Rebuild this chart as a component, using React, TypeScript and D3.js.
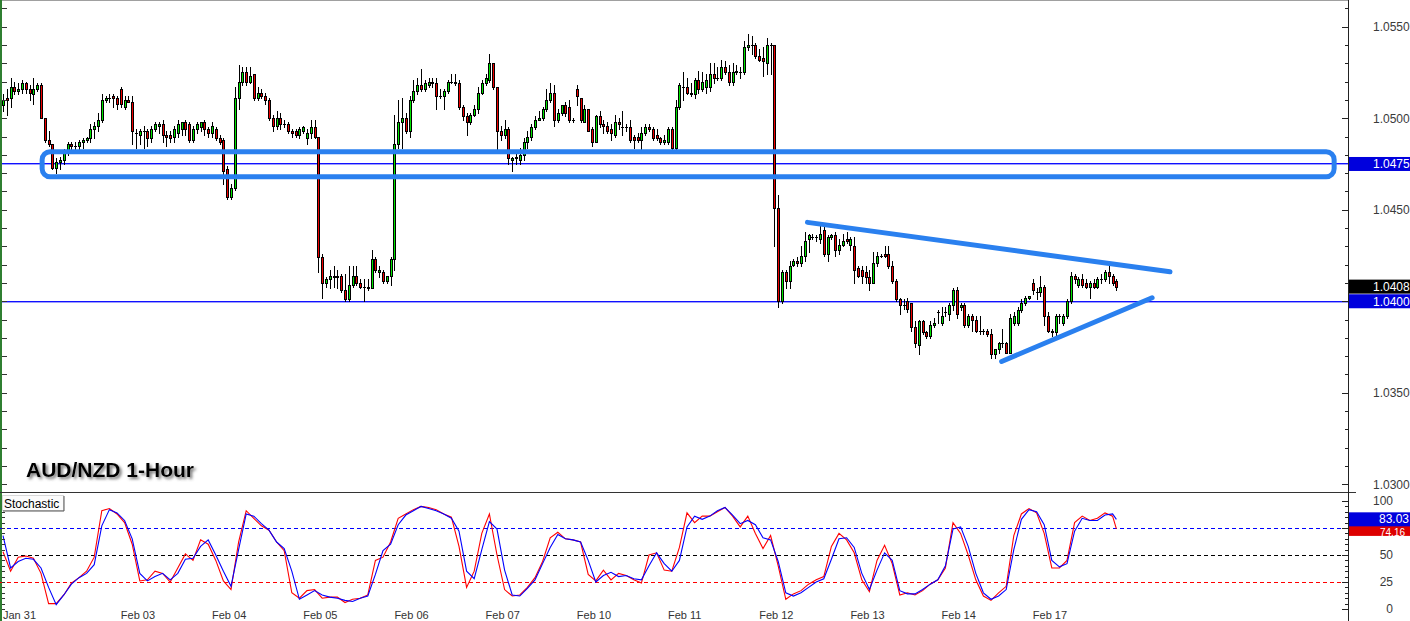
import React from 'react';
import * as d3 from 'd3';

const W = 1410;
const H = 621;

// hourly candles [open, high, low, close]
const candles: [number, number, number, number][] = [
  [1.0507,1.0513,1.0504,1.0510],[1.0511,1.0516,1.0502,1.0510],[1.0511,1.0522,1.0506,1.0517],[1.0517,1.0520,1.0513,1.0515],
  [1.0515,1.0519,1.0513,1.0516],[1.0516,1.0521,1.0514,1.0519],[1.0519,1.0520,1.0514,1.0516],[1.0516,1.0518,1.0510,1.0514],
  [1.0513,1.0522,1.0508,1.0516],[1.0516,1.0519,1.0515,1.0518],[1.0518,1.0519,1.0500,1.0500],[1.0500,1.0500,1.0487,1.0488],
  [1.0488,1.0493,1.0485,1.0486],[1.0486,1.0486,1.0472,1.0473],[1.0473,1.0478,1.0470,1.0476],[1.0476,1.0479,1.0472,1.0477],
  [1.0477,1.0483,1.0475,1.0481],[1.0481,1.0487,1.0480,1.0486],[1.0486,1.0487,1.0483,1.0485],[1.0485,1.0487,1.0483,1.0485],
  [1.0485,1.0488,1.0483,1.0487],[1.0487,1.0489,1.0484,1.0488],[1.0488,1.0490,1.0487,1.0489],[1.0489,1.0497,1.0487,1.0494],
  [1.0494,1.0498,1.0489,1.0496],[1.0496,1.0503,1.0493,1.0499],[1.0499,1.0513,1.0498,1.0510],[1.0510,1.0512,1.0509,1.0511],
  [1.0511,1.0513,1.0509,1.0511],[1.0512,1.0513,1.0506,1.0511],[1.0511,1.0512,1.0505,1.0508],[1.0516,1.0517,1.0506,1.0508],
  [1.0506,1.0512,1.0505,1.0510],[1.0510,1.0512,1.0509,1.0509],[1.0509,1.0512,1.0486,1.0493],[1.0492,1.0494,1.0484,1.0492],
  [1.0491,1.0494,1.0486,1.0493],[1.0493,1.0496,1.0484,1.0493],[1.0493,1.0494,1.0485,1.0489],[1.0489,1.0496,1.0487,1.0494],
  [1.0494,1.0498,1.0493,1.0497],[1.0496,1.0498,1.0492,1.0497],[1.0497,1.0499,1.0487,1.0491],[1.0491,1.0493,1.0485,1.0490],
  [1.0491,1.0493,1.0487,1.0489],[1.0490,1.0496,1.0487,1.0494],[1.0492,1.0499,1.0490,1.0497],[1.0494,1.0498,1.0491,1.0498],
  [1.0498,1.0499,1.0491,1.0494],[1.0497,1.0498,1.0487,1.0488],[1.0488,1.0496,1.0487,1.0494],[1.0494,1.0498,1.0492,1.0497],
  [1.0495,1.0498,1.0493,1.0498],[1.0498,1.0499,1.0491,1.0494],[1.0494,1.0495,1.0490,1.0492],[1.0492,1.0498,1.0490,1.0496],
  [1.0494,1.0495,1.0488,1.0489],[1.0489,1.0491,1.0486,1.0487],[1.0488,1.0489,1.0464,1.0471],[1.0472,1.0474,1.0456,1.0457],
  [1.0457,1.0464,1.0456,1.0462],[1.0462,1.0517,1.0461,1.0511],[1.0511,1.0529,1.0505,1.0520],[1.0520,1.0528,1.0518,1.0525],
  [1.0525,1.0528,1.0518,1.0520],[1.0520,1.0528,1.0519,1.0523],[1.0524,1.0524,1.0510,1.0511],[1.0511,1.0517,1.0510,1.0514],
  [1.0514,1.0516,1.0511,1.0512],[1.0512,1.0514,1.0508,1.0510],[1.0510,1.0511,1.0499,1.0500],[1.0500,1.0502,1.0493,1.0496],
  [1.0496,1.0504,1.0494,1.0500],[1.0500,1.0503,1.0494,1.0497],[1.0497,1.0499,1.0495,1.0497],[1.0497,1.0498,1.0492,1.0493],
  [1.0493,1.0494,1.0490,1.0492],[1.0493,1.0494,1.0490,1.0491],[1.0491,1.0495,1.0489,1.0494],[1.0493,1.0496,1.0492,1.0495],
  [1.0489,1.0494,1.0486,1.0492],[1.0492,1.0499,1.0489,1.0495],[1.0495,1.0499,1.0489,1.0490],[1.0490,1.0490,1.0416,1.0424],
  [1.0424,1.0426,1.0402,1.0410],[1.0410,1.0413,1.0408,1.0412],[1.0412,1.0417,1.0407,1.0414],[1.0414,1.0419,1.0408,1.0413],
  [1.0413,1.0417,1.0407,1.0414],[1.0414,1.0415,1.0405,1.0406],[1.0406,1.0415,1.0400,1.0401],[1.0401,1.0419,1.0400,1.0409],
  [1.0409,1.0419,1.0408,1.0414],[1.0414,1.0419,1.0409,1.0410],[1.0410,1.0412,1.0407,1.0408],[1.0408,1.0412,1.0400,1.0408],
  [1.0407,1.0412,1.0406,1.0408],[1.0407,1.0428,1.0407,1.0423],[1.0423,1.0424,1.0416,1.0417],[1.0416,1.0419,1.0413,1.0417],
  [1.0416,1.0417,1.0410,1.0411],[1.0411,1.0414,1.0410,1.0414],[1.0414,1.0424,1.0409,1.0423],[1.0423,1.0502,1.0417,1.0486],
  [1.0486,1.0510,1.0484,1.0498],[1.0498,1.0511,1.0484,1.0500],[1.0500,1.0503,1.0492,1.0493],[1.0493,1.0512,1.0490,1.0510],
  [1.0510,1.0521,1.0509,1.0515],[1.0515,1.0522,1.0513,1.0518],[1.0518,1.0527,1.0515,1.0516],[1.0516,1.0521,1.0515,1.0519],
  [1.0518,1.0522,1.0517,1.0520],[1.0520,1.0522,1.0517,1.0519],[1.0519,1.0522,1.0505,1.0512],[1.0512,1.0516,1.0511,1.0512],
  [1.0512,1.0516,1.0505,1.0515],[1.0515,1.0521,1.0514,1.0520],[1.0520,1.0524,1.0519,1.0520],[1.0520,1.0524,1.0518,1.0519],
  [1.0519,1.0521,1.0505,1.0506],[1.0506,1.0507,1.0499,1.0501],[1.0501,1.0503,1.0491,1.0498],[1.0498,1.0503,1.0497,1.0502],
  [1.0502,1.0507,1.0501,1.0505],[1.0505,1.0517,1.0503,1.0514],[1.0514,1.0521,1.0513,1.0519],[1.0519,1.0524,1.0518,1.0522],
  [1.0521,1.0535,1.0520,1.0530],[1.0530,1.0530,1.0516,1.0517],[1.0517,1.0517,1.0483,1.0493],[1.0493,1.0496,1.0488,1.0491],
  [1.0491,1.0499,1.0489,1.0494],[1.0494,1.0495,1.0475,1.0478],[1.0477,1.0479,1.0471,1.0478],[1.0479,1.0481,1.0475,1.0478],
  [1.0477,1.0484,1.0475,1.0480],[1.0480,1.0489,1.0477,1.0487],[1.0487,1.0493,1.0484,1.0490],[1.0490,1.0497,1.0488,1.0495],
  [1.0495,1.0501,1.0494,1.0499],[1.0499,1.0504,1.0499,1.0500],[1.0500,1.0506,1.0499,1.0505],[1.0505,1.0516,1.0504,1.0510],
  [1.0510,1.0519,1.0509,1.0514],[1.0514,1.0518,1.0496,1.0499],[1.0499,1.0505,1.0498,1.0503],[1.0503,1.0507,1.0502,1.0507],
  [1.0507,1.0509,1.0501,1.0503],[1.0506,1.0510,1.0498,1.0499],[1.0499,1.0500,1.0498,1.0499],[1.0516,1.0518,1.0507,1.0512],
  [1.0511,1.0511,1.0498,1.0499],[1.0498,1.0507,1.0498,1.0505],[1.0505,1.0505,1.0493,1.0493],[1.0494,1.0495,1.0485,1.0487],
  [1.0487,1.0502,1.0487,1.0501],[1.0501,1.0504,1.0495,1.0497],[1.0497,1.0499,1.0492,1.0496],[1.0496,1.0498,1.0492,1.0493],
  [1.0494,1.0497,1.0488,1.0492],[1.0491,1.0502,1.0490,1.0498],[1.0498,1.0500,1.0494,1.0497],[1.0495,1.0504,1.0491,1.0495],
  [1.0495,1.0497,1.0493,1.0495],[1.0495,1.0499,1.0487,1.0488],[1.0490,1.0491,1.0484,1.0488],[1.0490,1.0492,1.0487,1.0488],
  [1.0488,1.0495,1.0483,1.0492],[1.0492,1.0497,1.0491,1.0495],[1.0495,1.0497,1.0493,1.0494],[1.0494,1.0495,1.0488,1.0489],
  [1.0491,1.0494,1.0488,1.0489],[1.0489,1.0490,1.0486,1.0487],[1.0487,1.0491,1.0486,1.0488],[1.0487,1.0495,1.0486,1.0494],
  [1.0494,1.0495,1.0483,1.0484],[1.0484,1.0510,1.0482,1.0506],[1.0506,1.0519,1.0505,1.0518],[1.0517,1.0525,1.0510,1.0517],
  [1.0517,1.0522,1.0513,1.0514],[1.0514,1.0519,1.0512,1.0513],[1.0513,1.0522,1.0511,1.0521],[1.0521,1.0526,1.0514,1.0516],
  [1.0516,1.0525,1.0515,1.0520],[1.0517,1.0524,1.0514,1.0521],[1.0517,1.0530,1.0515,1.0524],[1.0524,1.0530,1.0519,1.0522],
  [1.0522,1.0528,1.0521,1.0522],[1.0522,1.0532,1.0521,1.0528],[1.0528,1.0531,1.0524,1.0525],[1.0525,1.0529,1.0518,1.0520],
  [1.0520,1.0530,1.0518,1.0525],[1.0526,1.0529,1.0524,1.0525],[1.0525,1.0528,1.0522,1.0525],[1.0525,1.0542,1.0524,1.0539],
  [1.0539,1.0546,1.0537,1.0540],[1.0540,1.0545,1.0535,1.0540],[1.0540,1.0541,1.0533,1.0534],[1.0534,1.0538,1.0531,1.0532],
  [1.0533,1.0539,1.0523,1.0531],[1.0530,1.0544,1.0524,1.0540],[1.0540,1.0541,1.0524,1.0540],[1.0540,1.0540,1.0430,1.0451],
  [1.0451,1.0458,1.0397,1.0400],[1.0400,1.0417,1.0399,1.0416],[1.0416,1.0417,1.0407,1.0411],[1.0411,1.0422,1.0407,1.0419],
  [1.0420,1.0423,1.0419,1.0422],[1.0422,1.0424,1.0419,1.0421],[1.0421,1.0430,1.0419,1.0425],[1.0425,1.0438,1.0422,1.0433],
  [1.0434,1.0437,1.0427,1.0436],[1.0435,1.0437,1.0434,1.0435],[1.0435,1.0436,1.0433,1.0435],[1.0434,1.0441,1.0432,1.0437],
  [1.0439,1.0441,1.0425,1.0426],[1.0426,1.0436,1.0422,1.0435],[1.0435,1.0437,1.0434,1.0436],[1.0436,1.0438,1.0425,1.0428],
  [1.0428,1.0434,1.0426,1.0431],[1.0431,1.0437,1.0430,1.0433],[1.0434,1.0438,1.0432,1.0433],[1.0431,1.0435,1.0428,1.0434],
  [1.0430,1.0435,1.0410,1.0417],[1.0418,1.0419,1.0413,1.0414],[1.0417,1.0419,1.0410,1.0414],[1.0416,1.0419,1.0410,1.0413],
  [1.0413,1.0417,1.0406,1.0410],[1.0410,1.0427,1.0410,1.0421],[1.0421,1.0427,1.0419,1.0425],[1.0425,1.0426,1.0424,1.0425],
  [1.0426,1.0430,1.0424,1.0425],[1.0426,1.0430,1.0418,1.0419],[1.0419,1.0422,1.0410,1.0411],[1.0411,1.0412,1.0400,1.0401],
  [1.0401,1.0402,1.0393,1.0398],[1.0398,1.0401,1.0396,1.0398],[1.0400,1.0402,1.0394,1.0396],[1.0399,1.0399,1.0384,1.0386],
  [1.0386,1.0389,1.0375,1.0377],[1.0376,1.0390,1.0371,1.0389],[1.0389,1.0390,1.0382,1.0383],[1.0383,1.0384,1.0380,1.0381],
  [1.0381,1.0389,1.0380,1.0387],[1.0387,1.0391,1.0386,1.0388],[1.0394,1.0395,1.0388,1.0394],[1.0388,1.0397,1.0387,1.0392],
  [1.0394,1.0397,1.0392,1.0394],[1.0393,1.0399,1.0390,1.0398],[1.0398,1.0407,1.0395,1.0406],[1.0406,1.0408,1.0391,1.0393],
  [1.0397,1.0399,1.0395,1.0398],[1.0398,1.0399,1.0386,1.0387],[1.0387,1.0393,1.0386,1.0392],[1.0392,1.0393,1.0384,1.0390],
  [1.0390,1.0392,1.0383,1.0384],[1.0384,1.0392,1.0382,1.0384],[1.0384,1.0385,1.0382,1.0384],[1.0384,1.0385,1.0381,1.0382],
  [1.0382,1.0385,1.0369,1.0371],[1.0371,1.0374,1.0369,1.0374],[1.0374,1.0378,1.0372,1.0377],[1.0377,1.0385,1.0375,1.0377],
  [1.0377,1.0378,1.0372,1.0372],[1.0372,1.0393,1.0372,1.0391],[1.0388,1.0394,1.0387,1.0392],[1.0388,1.0397,1.0387,1.0395],
  [1.0395,1.0401,1.0394,1.0399],[1.0399,1.0403,1.0398,1.0402],[1.0402,1.0403,1.0401,1.0403],[1.0410,1.0412,1.0404,1.0406],
  [1.0405,1.0407,1.0401,1.0405],[1.0405,1.0414,1.0403,1.0408],[1.0408,1.0409,1.0387,1.0392],[1.0392,1.0394,1.0383,1.0384],
  [1.0384,1.0385,1.0381,1.0383],[1.0383,1.0393,1.0381,1.0392],[1.0392,1.0393,1.0388,1.0392],[1.0388,1.0393,1.0387,1.0392],
  [1.0392,1.0401,1.0391,1.0400],[1.0400,1.0416,1.0399,1.0414],[1.0414,1.0415,1.0410,1.0412],[1.0409,1.0413,1.0408,1.0412],
  [1.0412,1.0415,1.0408,1.0409],[1.0410,1.0412,1.0407,1.0408],[1.0408,1.0411,1.0402,1.0410],[1.0410,1.0412,1.0407,1.0408],
  [1.0408,1.0413,1.0407,1.0412],[1.0412,1.0415,1.0410,1.0412],[1.0412,1.0417,1.0411,1.0416],[1.0416,1.0419,1.0410,1.0414],
  [1.0414,1.0415,1.0409,1.0410],[1.0411,1.0412,1.0406,1.0408],
];

const dayLabels = ['Jan 31', 'Feb 03', 'Feb 04', 'Feb 05', 'Feb 06', 'Feb 07', 'Feb 10', 'Feb 11', 'Feb 12', 'Feb 13', 'Feb 14', 'Feb 17'];
const dayStartIdx = [0, 31, 55, 79, 103, 127, 151, 175, 199, 223, 247, 271];

const priceLabels = ['1.0300', '1.0350', '1.0400', '1.0450', '1.0500', '1.0550'];
const priceLevels = [1.0475, 1.04];
const lastPrice = 1.0408;

// stochastic %K (red) and %D (blue), every 2nd candle, plus the last candle
const stochK = [
  53, 35, 48, 49, 47, 33, 5, 5, 13, 24, 29, 35, 48, 91, 93, 88, 80, 60, 26, 27,
  35, 33, 25, 38, 51, 45, 64, 60, 45, 26, 18, 62, 91, 84, 77, 73, 62, 54, 15, 10,
  17, 18, 10, 11, 11, 6, 9, 10, 13, 45, 48, 62, 84, 88, 92, 95, 94, 92, 88, 85,
  58, 20, 35, 70, 88, 50, 18, 12, 13, 20, 29, 44, 66, 71, 65, 64, 62, 32, 26, 36,
  27, 33, 31, 27, 24, 50, 52, 36, 35, 57, 89, 80, 86, 86, 90, 94, 86, 76, 86, 70,
  56, 68, 40, 9, 14, 17, 23, 27, 30, 58, 70, 64, 52, 27, 16, 45, 59, 42, 13, 15,
  13, 17, 23, 27, 38, 80, 70, 50, 27, 12, 8, 15, 21, 68, 88, 93, 89, 70, 38, 38,
  45, 80, 86, 82, 84, 89, 86, 74.16,
];
const stochD = [
  68, 38, 44, 47, 46, 38, 20, 4, 13, 23, 29, 33, 41, 77, 92, 89, 82, 65, 33, 26,
  30, 33, 27, 33, 46, 47, 58, 64, 50, 35, 21, 55, 88, 86, 79, 73, 62, 56, 35, 9,
  13, 17, 13, 11, 10, 8, 7, 10, 12, 32, 54, 60, 78, 87, 91, 95, 93, 91, 88, 84,
  72, 35, 28, 55, 81, 74, 36, 13, 12, 19, 27, 42, 57, 69, 65, 64, 62, 45, 25, 31,
  34, 30, 31, 28, 27, 40, 52, 42, 35, 45, 76, 86, 83, 86, 91, 94, 87, 79, 82, 78,
  66, 64, 44, 15, 12, 15, 20, 25, 28, 46, 65, 66, 57, 33, 18, 36, 52, 45, 17, 14,
  14, 18, 23, 27, 40, 74, 76, 58, 33, 15, 9, 12, 18, 55, 83, 92, 90, 78, 45, 39,
  42, 72, 84, 82, 82, 87, 88, 83.03,
];
const stochLevels = [75, 50, 25];
const stochLevelColors = ['#0000ff', '#000000', '#ff0000'];
const stochTickLabels = [100, 50, 25, 0];

// drawn annotations: [candle index, price]
const zoneBox = { i0: 10.3, i1: 350.3, p0: 1.04817, p1: 1.0468 };
const upperTrend: [number, number][] = [[211.7, 1.04431], [307.1, 1.04161]];
const lowerTrend: [number, number][] = [[262.8, 1.03671], [302.4, 1.04019]];

const FONT = "'Liberation Sans', Arial, sans-serif";

export default function App() {
  const n = candles.length;
  const x = d3.scaleLinear().domain([0, n - 1]).range([3, 3 + (n - 1) * 3.8]);
  const y = d3.scaleLinear().domain([1.03, 1.055]).range([484.3, 26.7]);
  const ys = d3.scaleLinear().domain([0, 100]).range([609, 501]);

  const axisX = 1348;
  const stochIdx = d3.range(0, n - 1, 2).concat([n - 1]);

  const lineK = d3.line<number>().x((_, i) => x(stochIdx[i])).y((d) => ys(d));
  const lineD = d3.line<number>().x((_, i) => x(stochIdx[i])).y((d) => ys(d));
  const trend = d3.line<[number, number]>().x((d) => x(d[0])).y((d) => y(d[1]));

  const minorTicks = d3.range(0, 27).map((k) => 1.03 + k * 0.001);
  const stochTicks = d3.range(0, 21).map((k) => k * 5);

  const green = '#00e400';
  const red = '#ee0000';

  const lastK = stochK[stochK.length - 1];
  const lastD = stochD[stochD.length - 1];

  return (
    <svg width={W} height={H} style={{ position: 'absolute', left: 0, top: 0, display: 'block', background: '#ffffff' }}>
      <defs>
        <filter id="tshadow" x="-10%" y="-30%" width="130%" height="180%">
          <feDropShadow dx="2" dy="2" stdDeviation="1.6" floodColor="#555555" floodOpacity="0.85" />
        </filter>
        <clipPath id="mainclip">
          <rect x={0} y={0} width={axisX} height={492} />
        </clipPath>
        <clipPath id="stochclip">
          <rect x={0} y={493} width={axisX} height={128} />
        </clipPath>
      </defs>
      <rect x={0} y={0} width={W} height={H} fill="#ffffff" />

      {/* top border */}
      <line x1={0} x2={axisX} y1={0.5} y2={0.5} stroke="#a0a0a0" />

      {/* price level lines */}
      {priceLevels.map((p, i) => (
        <rect key={i} x={0} width={axisX} y={Math.floor(y(p))} height={1.4} fill="#1010ff" />
      ))}

      {/* candles */}
      <g shapeRendering="crispEdges" clipPath="url(#mainclip)">
        {candles.map((c, i) => {
          const [o, h, l, cl] = c;
          const cx = Math.round(x(i));
          const yh = Math.round(y(h));
          const yl = Math.round(y(l));
          const top = Math.round(y(Math.max(o, cl)));
          const bot = Math.round(y(Math.min(o, cl)));
          const up = cl > o;
          const bh = bot - top;
          return (
            <g key={i}>
              <rect x={cx} y={yh} width={1} height={Math.max(1, yl - yh + 1)} fill="#000" />
              {bh < 2 ? (
                <rect x={cx - 1} y={top} width={3} height={Math.max(1, bh + 1)} fill="#000" />
              ) : (
                <>
                  <rect x={cx - 1} y={top} width={3} height={bh + 1} fill="#000" />
                  <rect x={cx} y={top + 1} width={1} height={bh - 1} fill={up ? green : red} />
                </>
              )}
            </g>
          );
        })}
      </g>

      {/* annotations */}
      <g clipPath="url(#mainclip)">
        <rect
          x={x(zoneBox.i0)}
          y={y(zoneBox.p0)}
          width={x(zoneBox.i1) - x(zoneBox.i0)}
          height={y(zoneBox.p1) - y(zoneBox.p0)}
          rx={8}
          fill="none"
          stroke="#2a80ef"
          strokeWidth={5}
        />
        <path d={trend(upperTrend) || ''} stroke="#2a80ef" strokeWidth={5} fill="none" strokeLinecap="round" />
        <path d={trend(lowerTrend) || ''} stroke="#2a80ef" strokeWidth={5} fill="none" strokeLinecap="round" />
      </g>

      {/* title */}
      <text x={26} y={477} fontFamily={FONT} fontWeight="bold" fontSize={21} fill="#000" filter="url(#tshadow)">
        AUD/NZD 1-Hour
      </text>

      {/* left border and ticks */}
      <rect x={0} y={0} width={2} height={H} fill="#2f7f31" />
      {minorTicks.map((p, i) => (
        <line key={i} x1={2} x2={7} y1={Math.round(y(p)) + 0.5} y2={Math.round(y(p)) + 0.5} stroke="#333" />
      ))}

      {/* panel separator */}
      <line x1={0} x2={1356} y1={492.5} y2={492.5} stroke="#333" />

      {/* right axis */}
      <line x1={axisX + 0.5} x2={axisX + 0.5} y1={0} y2={H} stroke="#222" />
      {minorTicks.map((p, i) => {
        const yy = Math.round(y(p)) + 0.5;
        const major = Math.round(p * 10000) % 50 === 0;
        return <line key={i} x1={major ? axisX - 6 : axisX - 3} x2={axisX} y1={yy} y2={yy} stroke="#222" />;
      })}
      {priceLabels.map((t) => (
        <text key={t} x={1373} y={y(+t) + 4.5} fontFamily={FONT} fontSize={12} fill="#3a3a3a">
          {t}
        </text>
      ))}

      {/* right label boxes main */}
      {[
        { v: priceLevels[0], bg: '#0000dd' },
        { v: lastPrice, bg: '#000000' },
        { v: priceLevels[1], bg: '#0000dd' },
      ].map((b, i) => (
        <g key={i}>
          <rect x={axisX + 1} y={y(b.v) - 7} width={W - axisX} height={14} fill={b.bg} />
          <text x={1373} y={y(b.v) + 4.5} fontFamily={FONT} fontSize={12} fill="#fff">
            {b.v.toFixed(4)}
          </text>
        </g>
      ))}

      {/* stochastic panel */}
      {stochLevels.map((lv, i) => (
        <line key={lv} x1={0} x2={axisX} y1={Math.round(ys(lv)) + 0.5} y2={Math.round(ys(lv)) + 0.5} stroke={stochLevelColors[i]} strokeDasharray="4,3" />
      ))}
      <g clipPath="url(#stochclip)">
        <path d={lineK(stochK) || ''} fill="none" stroke="#ff0000" strokeWidth={1.1} />
        <path d={lineD(stochD) || ''} fill="none" stroke="#0000ff" strokeWidth={1.1} />
      </g>
      {stochTicks.map((v) => {
        const yy = Math.round(ys(v)) + 0.5;
        const major = v % 25 === 0;
        return <line key={v} x1={major ? axisX - 6 : axisX - 3} x2={axisX} y1={yy} y2={yy} stroke="#222" />;
      })}
      {stochTicks.map((v) => {
        const yy = Math.round(ys(v)) + 0.5;
        return <line key={'l' + v} x1={2} x2={5} y1={yy} y2={yy} stroke="#333" />;
      })}
      {stochTickLabels.map((v) => (
        <text key={v} x={1393} y={ys(v) + 4} textAnchor="end" fontFamily={FONT} fontSize={12} fill="#3a3a3a">
          {v}
        </text>
      ))}
      {/* last-value boxes: red (%K) below, blue (%D) on top */}
      <rect x={axisX + 1} y={ys(lastK) - 7} width={W - axisX} height={14} fill="#dd0000" />
      <text x={1380} y={ys(lastK) + 7.5} fontFamily={FONT} fontSize={10} fill="#fff">
        {lastK.toFixed(2)}
      </text>
      <rect x={axisX + 1} y={ys(lastD) - 7} width={W - axisX} height={14} fill="#0000dd" />
      <text x={1379} y={ys(lastD) + 3.5} fontFamily={FONT} fontSize={12} fill="#fff">
        {lastD.toFixed(2)}
      </text>

      {/* stochastic caption */}
      <g>
        <rect x={2.5} y={495.5} width={61} height={15} fill="#fbfbfb" stroke="#d8d8d8" />
        <line x1={64} x2={64} y1={496} y2={511} stroke="#555" />
        <line x1={3} x2={64} y1={511} y2={511} stroke="#555" />
        <text x={4} y={507.5} fontFamily={FONT} fontSize={12} fill="#000">
          Stochastic
        </text>
      </g>

      {/* date labels */}
      {dayLabels.map((d, i) => (
        <text key={d} x={x(dayStartIdx[i])} y={619} fontFamily={FONT} fontSize={11} fill="#333">
          {d}
        </text>
      ))}
    </svg>
  );
}
